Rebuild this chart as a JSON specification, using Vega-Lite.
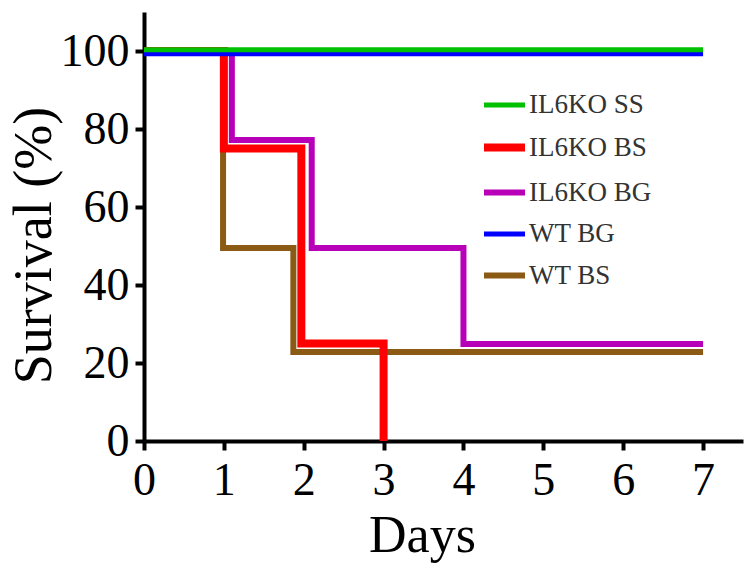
{
  "$schema": "https://vega.github.io/schema/vega-lite/v6.json",
  "width": 599,
  "height": 429,
  "autosize": {"type": "none"},
  "padding": {"left": 144, "top": 12, "right": 9, "bottom": 124},
  "background": "white",
  "config": {
    "view": {"stroke": null},
    "font": "Liberation Serif",
    "axis": {
      "grid": false,
      "domainColor": "black",
      "domainWidth": 4,
      "tickColor": "black",
      "tickWidth": 4,
      "tickSize": 9,
      "labelFont": "Liberation Serif",
      "labelFontSize": 46,
      "labelColor": "black",
      "titleFont": "Liberation Serif",
      "titleFontSize": 52,
      "titleFontWeight": "normal",
      "titleColor": "black"
    }
  },
  "data": {
    "values": [
      {"group": "WT BS", "day": 0, "survival": 100},
      {"group": "WT BS", "day": 0.99, "survival": 49.5},
      {"group": "WT BS", "day": 1.87, "survival": 22.8},
      {"group": "WT BS", "day": 7, "survival": 22.8},
      {"group": "IL6KO BG", "day": 0, "survival": 100},
      {"group": "IL6KO BG", "day": 1.1, "survival": 77.2},
      {"group": "IL6KO BG", "day": 2.1, "survival": 49.5},
      {"group": "IL6KO BG", "day": 4, "survival": 24.9},
      {"group": "IL6KO BG", "day": 7, "survival": 24.9},
      {"group": "IL6KO BS", "day": 0, "survival": 100},
      {"group": "IL6KO BS", "day": 1.0, "survival": 75},
      {"group": "IL6KO BS", "day": 1.97, "survival": 25},
      {"group": "IL6KO BS", "day": 3.0, "survival": 0},
      {"group": "WT BG", "day": 0, "survival": 99.3},
      {"group": "WT BG", "day": 7, "survival": 99.3},
      {"group": "IL6KO SS", "day": 0, "survival": 100.3},
      {"group": "IL6KO SS", "day": 7, "survival": 100.3}
    ]
  },
  "mark": {"type": "line", "interpolate": "step-after", "strokeCap": "butt"},
  "encoding": {
    "x": {
      "field": "day",
      "type": "quantitative",
      "scale": {"domain": [0, 7.5], "nice": false},
      "axis": {
        "values": [0, 1, 2, 3, 4, 5, 6, 7],
        "title": "Days",
        "labelPadding": 8,
        "labelFlush": false,
        "titleX": 278,
        "titleY": 110,
        "titleBaseline": "alphabetic"
      }
    },
    "y": {
      "field": "survival",
      "type": "quantitative",
      "scale": {"domain": [0, 110], "nice": false},
      "axis": {
        "values": [0, 20, 40, 60, 80, 100],
        "title": "Survival (%)",
        "labelPadding": 6,
        "labelFlush": false,
        "labelOverlap": false,
        "titleX": -83,
        "titleY": 233,
        "titleFontSize": 54
      }
    },
    "color": {
      "field": "group",
      "type": "nominal",
      "sort": ["IL6KO SS", "IL6KO BS", "IL6KO BG", "WT BG", "WT BS"],
      "scale": {
        "domain": ["IL6KO SS", "IL6KO BS", "IL6KO BG", "WT BG", "WT BS"],
        "range": ["#00c000", "#ff0000", "#b800b8", "#0000ff", "#8b5a14"]
      },
      "legend": {
        "title": null,
        "orient": "none",
        "legendX": 336,
        "legendY": 70,
        "padding": 0,
        "symbolType": "stroke",
        "symbolSize": 1681,
        "symbolStrokeWidth": 6,
        "rowPadding": 5,
        "labelFont": "Liberation Serif",
        "labelFontSize": 27,
        "labelColor": "#333333",
        "labelOffset": 0,
        "labelLimit": 300
      }
    },
    "strokeWidth": {
      "field": "group",
      "type": "ordinal",
      "scale": {
        "type": "ordinal",
        "domain": ["IL6KO SS", "IL6KO BS", "IL6KO BG", "WT BG", "WT BS"],
        "range": [5, 8, 6, 5, 6]
      },
      "legend": null
    }
  }
}
